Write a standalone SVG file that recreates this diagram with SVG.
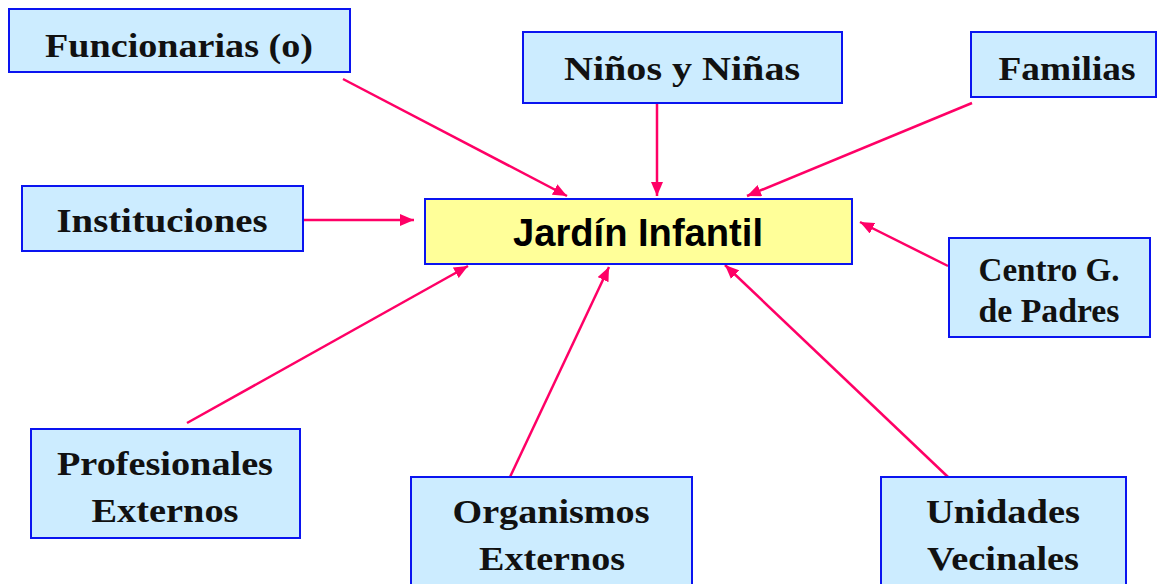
<svg xmlns="http://www.w3.org/2000/svg" width="1158" height="584" viewBox="0 0 1158 584">
<defs>
<marker id="ah" viewBox="0 0 14 12" refX="14" refY="6" markerWidth="14" markerHeight="12" markerUnits="userSpaceOnUse" orient="auto">
<path d="M0,0 L14,6 L0,12 Z" fill="#FF0066"/>
</marker>
<style>
.box{fill:#CCECFF;stroke:#0A14F0;stroke-width:2}
.main{fill:#FFFF99;stroke:#0A14F0;stroke-width:2}
.t{font-family:"Liberation Serif",serif;font-weight:bold;font-size:34px;fill:#111;text-anchor:middle}
.m{font-family:"Liberation Sans",Arial,sans-serif;font-weight:bold;font-size:38px;fill:#000;text-anchor:middle}
.c{stroke:#FF0066;stroke-width:2.5;fill:none;marker-end:url(#ah)}
</style>
</defs>
<rect width="1158" height="584" fill="#fff"/>
<g id="connectors">
<line class="c" x1="343" y1="79" x2="567" y2="196"/>
<line class="c" x1="657" y1="103" x2="657" y2="196"/>
<line class="c" x1="972" y1="103" x2="747" y2="196"/>
<line class="c" x1="300" y1="220" x2="414" y2="220"/>
<line class="c" x1="948" y1="266" x2="860" y2="222"/>
<line class="c" x1="187" y1="423" x2="468" y2="266"/>
<line class="c" x1="510" y1="477" x2="609" y2="267"/>
<line class="c" x1="948" y1="477" x2="725" y2="265"/>
</g>
<g id="jardin">
<rect class="main" x="425" y="199" width="427" height="65"/>
<text class="m" x="638" y="246" textLength="250" lengthAdjust="spacingAndGlyphs">Jardín Infantil</text>
</g>
<g id="funcionarias">
<rect class="box" x="9" y="9" width="341" height="63"/>
<text class="t" x="179" y="57" textLength="268" lengthAdjust="spacingAndGlyphs">Funcionarias (o)</text>
</g>
<g id="ninos">
<rect class="box" x="523" y="32" width="319" height="71"/>
<text class="t" x="682" y="80" textLength="236" lengthAdjust="spacingAndGlyphs">Niños y Niñas</text>
</g>
<g id="familias">
<rect class="box" x="971" y="32" width="185" height="65"/>
<text class="t" x="1067" y="80" textLength="137" lengthAdjust="spacingAndGlyphs">Familias</text>
</g>
<g id="instituciones">
<rect class="box" x="22" y="186" width="281" height="65"/>
<text class="t" x="162" y="232" textLength="211" lengthAdjust="spacingAndGlyphs">Instituciones</text>
</g>
<g id="centro">
<rect class="box" x="949" y="238" width="201" height="99"/>
<text class="t" x="1049" y="281" textLength="141" lengthAdjust="spacingAndGlyphs">Centro G.</text>
<text class="t" x="1049" y="322" textLength="141" lengthAdjust="spacingAndGlyphs">de Padres</text>
</g>
<g id="profesionales">
<rect class="box" x="31" y="429" width="269" height="109"/>
<text class="t" x="165" y="475" textLength="216" lengthAdjust="spacingAndGlyphs">Profesionales</text>
<text class="t" x="165" y="522" textLength="147" lengthAdjust="spacingAndGlyphs">Externos</text>
</g>
<g id="organismos">
<rect class="box" x="411" y="477" width="281" height="115"/>
<text class="t" x="551" y="523" textLength="197" lengthAdjust="spacingAndGlyphs">Organismos</text>
<text class="t" x="552" y="570" textLength="146" lengthAdjust="spacingAndGlyphs">Externos</text>
</g>
<g id="unidades">
<rect class="box" x="881" y="477" width="245" height="115"/>
<text class="t" x="1003" y="523" textLength="154" lengthAdjust="spacingAndGlyphs">Unidades</text>
<text class="t" x="1003" y="570" textLength="152" lengthAdjust="spacingAndGlyphs">Vecinales</text>
</g>
</svg>
